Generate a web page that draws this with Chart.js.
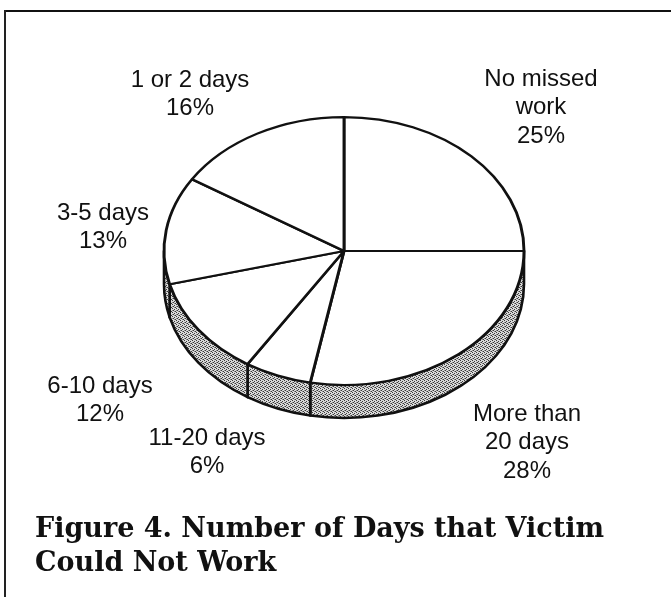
<!DOCTYPE html>
<html>
<head>
<meta charset="utf-8">
<script src="https://cdn.jsdelivr.net/npm/chart.js@4.4.1/dist/chart.umd.min.js"></script>
<style>
  body { margin: 0; background: #fff; }
  #wrap { position: relative; width: 671px; height: 597px; overflow: hidden; background: #fff; }
  #frameTop { position: absolute; left: 5px; top: 10px; width: 666px; height: 2px; background: #111; }
  #frameLeft { position: absolute; left: 4px; top: 10px; width: 2px; height: 587px; background: #222; }
  #pie { position: absolute; left: 0; top: 0; }
  .lbl {
    position: absolute; transform: translateX(-50%);
    font-family: "Liberation Sans", Arial, sans-serif; font-size: 24px;
    line-height: 28.5px; text-align: center; white-space: pre; color: #111;
  }
  #caption {
    position: absolute; left: 35px; top: 511px;
    font-family: "DejaVu Serif", serif; font-weight: bold; font-size: 27px;
    line-height: 34px; color: #111; white-space: nowrap;
  }
</style>
</head>
<body>
<div id="wrap">
  <div id="frameTop"></div>
  <div id="frameLeft"></div>
  <canvas id="pie" width="671" height="597"></canvas>
  <div id="caption">Figure 4. Number of Days that Victim<br>Could Not Work</div>
</div>

<script>
// slices go clockwise from 12 o'clock
var categories = ["No missed\nwork", "More than\n20 days", "11-20 days", "6-10 days", "3-5 days", "1 or 2 days"];
var percents = [25, 28, 6, 12, 13, 16];

// where each label block sits (center x, center of first line)
var labelSpots = [[541, 78], [527, 413], [207, 437], [100, 385], [103, 212], [190, 79]];

var tilt = 0.744;   // squash of the top face
var depth = 33;     // thickness of the rim

// stippled grey for the rim
function makeStipple(ctx) {
  var c = document.createElement("canvas");
  c.width = 4; c.height = 4;
  var g = c.getContext("2d");
  g.fillStyle = "#d9d9d9";
  g.fillRect(0, 0, 4, 4);
  g.fillStyle = "#3a3a3a";
  g.fillRect(0, 0, 1, 1);
  g.fillRect(2, 1, 1, 1);
  g.fillRect(1, 2, 1, 1);
  g.fillRect(3, 3, 1, 1);
  g.fillStyle = "#8a8a8a";
  g.fillRect(2, 3, 1, 1);
  g.fillRect(0, 2, 1, 1);
  return ctx.createPattern(c, "repeat");
}

var tiltPlugin = {
  id: "tilt3d",
  beforeDatasetsDraw: function (chart) {
    var ctx = chart.ctx;
    var arcs = chart.getDatasetMeta(0).data;
    var stipple = makeStipple(ctx);

    // rim: only the front half (0 .. PI) shows
    arcs.forEach(function (arc) {
      var p = arc.getProps(["x", "y", "startAngle", "endAngle", "outerRadius"], true);
      var a1 = Math.max(p.startAngle, 0);
      var a2 = Math.min(p.endAngle, Math.PI);
      if (a2 <= a1) return;
      var r = p.outerRadius;
      ctx.save();
      ctx.beginPath();
      ctx.ellipse(p.x, p.y, r, r * tilt, 0, a1, a2);
      ctx.ellipse(p.x, p.y + depth, r, r * tilt, 0, a2, a1, true);
      ctx.closePath();
      ctx.fillStyle = stipple;
      ctx.fill();
      ctx.lineWidth = 2.6;
      ctx.strokeStyle = "#111";
      ctx.lineJoin = "round";
      ctx.stroke();
      ctx.restore();
    });

    // squash the top face into an ellipse
    var c = arcs[0];
    ctx.save();
    ctx.translate(c.x, c.y);
    ctx.scale(1, tilt);
    ctx.translate(-c.x, -c.y);
  },
  afterDatasetsDraw: function (chart) {
    chart.ctx.restore();
  }
};

var chart = new Chart(document.getElementById("pie"), {
  type: "pie",
  data: {
    labels: categories.map(function (c) { return c.replace("\n", " "); }),
    datasets: [{
      data: percents,
      backgroundColor: "#ffffff",
      borderColor: "#111111",
      borderWidth: 2.9
    }]
  },
  options: {
    responsive: false,
    animation: false,
    events: [],
    radius: 180,
    layout: { padding: { left: 17, right: 0, top: 0, bottom: 95 } },
    plugins: {
      legend: { display: false },
      tooltip: { enabled: false }
    }
  },
  plugins: [tiltPlugin]
});

// slice labels
var wrap = document.getElementById("wrap");
categories.forEach(function (name, i) {
  var d = document.createElement("div");
  d.className = "lbl";
  d.textContent = name + "\n" + percents[i] + "%";
  d.style.left = labelSpots[i][0] + "px";
  d.style.top = (labelSpots[i][1] - 14.25) + "px";
  wrap.appendChild(d);
});
</script>
</body>
</html>
